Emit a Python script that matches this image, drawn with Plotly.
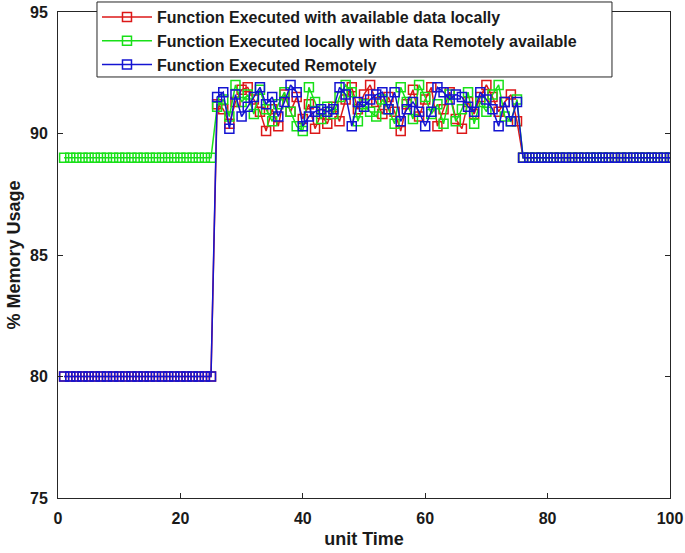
import plotly.graph_objects as go

# unit time 1..100
time = list(range(1, 101))

local_data = [
    80, 80, 80, 80, 80, 80, 80, 80, 80, 80, 80, 80, 80, 80, 80, 80, 80, 80, 80, 80, 80, 80, 80, 80, 80,
    91.2, 91.0, 90.4, 91.3, 91.8, 91.9, 91.4, 90.9, 90.1, 91.0, 90.3, 91.6, 90.9, 91.5, 90.6,
    91.2, 90.2, 90.8, 90.4, 91.1, 90.5, 91.4, 91.9, 91.0, 91.6, 92.0, 91.3, 90.8, 91.5, 90.9,
    90.1, 91.2, 91.8, 90.7, 91.4, 91.9, 90.3, 91.0, 91.7, 90.6, 90.2, 91.3, 90.8, 91.5, 92.0,
    91.5, 90.9, 91.3, 91.6, 90.5,
    89, 89, 89, 89, 89, 89, 89, 89, 89, 89, 89, 89, 89, 89, 89, 89, 89, 89, 89, 89, 89, 89, 89, 89, 89,
]

remote_data = [
    89, 89, 89, 89, 89, 89, 89, 89, 89, 89, 89, 89, 89, 89, 89, 89, 89, 89, 89, 89, 89, 89, 89, 89, 89,
    91.1, 91.4, 90.7, 92.0, 91.3, 91.6, 90.8, 91.8, 91.0, 90.5, 91.2, 91.7, 90.9, 90.3, 90.1,
    91.9, 91.3, 90.6, 91.1, 90.8, 91.5, 92.0, 91.7, 90.5, 91.2, 90.9, 90.7, 91.4, 91.0, 90.4,
    91.9, 91.3, 90.6, 92.0, 91.5, 90.8, 91.2, 90.4, 91.6, 90.5, 91.0, 91.7, 90.4, 91.3, 90.9,
    91.6, 92.0, 90.7, 90.5, 91.4,
    89, 89, 89, 89, 89, 89, 89, 89, 89, 89, 89, 89, 89, 89, 89, 89, 89, 89, 89, 89, 89, 89, 89, 89, 89,
]

remote_exec = [
    80, 80, 80, 80, 80, 80, 80, 80, 80, 80, 80, 80, 80, 80, 80, 80, 80, 80, 80, 80, 80, 80, 80, 80, 80,
    91.5, 91.7, 90.2, 91.6, 90.7, 91.1, 91.5, 91.9, 91.2, 91.5, 90.7, 91.3, 92.0, 91.7, 90.3,
    90.7, 90.9, 91.0, 90.9, 91.0, 91.9, 91.6, 90.3, 91.3, 91.1, 91.4, 91.6, 91.7, 91.0, 91.7,
    90.5, 91.0, 91.3, 90.9, 90.3, 90.9, 91.9, 91.7, 91.4, 91.6, 91.5, 91.1, 90.9, 91.7, 91.4,
    91.0, 90.3, 91.3, 90.5, 91.3,
    89, 89, 89, 89, 89, 89, 89, 89, 89, 89, 89, 89, 89, 89, 89, 89, 89, 89, 89, 89, 89, 89, 89, 89, 89,
]

series = [
    ('Function Executed with available data locally', local_data, '#dc1818'),
    ('Function Executed locally with data Remotely available', remote_data, '#18e018'),
    ('Function Executed Remotely', remote_exec, '#1414d2'),
]

fig = go.Figure()

for name, values, color in series:
    fig.add_trace(go.Scatter(
        x=time,
        y=values,
        name=name,
        mode='lines+markers',
        line=dict(color=color, width=1.5),
        marker=dict(symbol='square-open', size=9, color=color, line=dict(width=1.5))
    ))

axis_style = dict(
    showline=True, linecolor='#262626', linewidth=1, mirror='ticks',
    ticks='inside', ticklen=5, tickcolor='#262626',
    showgrid=False, zeroline=False, automargin=False,
    ticklabelstandoff=6,
    tickfont=dict(family='Liberation Sans', size=16, color='#1a1a1a', weight='bold'),
)

# white legend frame (MATLAB-style box over the top axis line)
fig.add_shape(type='rect', xref='paper', yref='paper',
              x0=0.0637, x1=0.9052, y0=0.8663, y1=1.0206,
              fillcolor='white', line=dict(color='#262626', width=1), layer='above')

fig.update_layout(
    width=685, height=553,
    margin=dict(l=58, r=15, t=12, b=55, autoexpand=False),
    plot_bgcolor='white', paper_bgcolor='white',
    font=dict(family='Liberation Sans', color='#1a1a1a'),
    xaxis=dict(range=[0, 100], tickvals=[0, 20, 40, 60, 80, 100], ticklabeloverflow='allow',
               title=dict(text='<b>unit Time</b>', font=dict(size=18), standoff=6),
               **axis_style),
    yaxis=dict(range=[75, 95], tickvals=[75, 80, 85, 90, 95],
               title=dict(text='<b>% Memory Usage</b>', font=dict(size=18), standoff=4),
               **axis_style),
    legend=dict(
        x=0.0637, y=1.0247, xanchor='left', yanchor='top',
        bgcolor='rgba(0,0,0,0)', borderwidth=0,
        font=dict(family='Liberation Sans', size=16, color='#1a1a1a', weight='bold'),
        itemwidth=50, tracegroupgap=0,
    ),
)

# drop the default page margin so the figure sits at the window's corner
fig.write_html("out.html", config={'displayModeBar': False},
               post_script="document.body.style.margin='0';")
